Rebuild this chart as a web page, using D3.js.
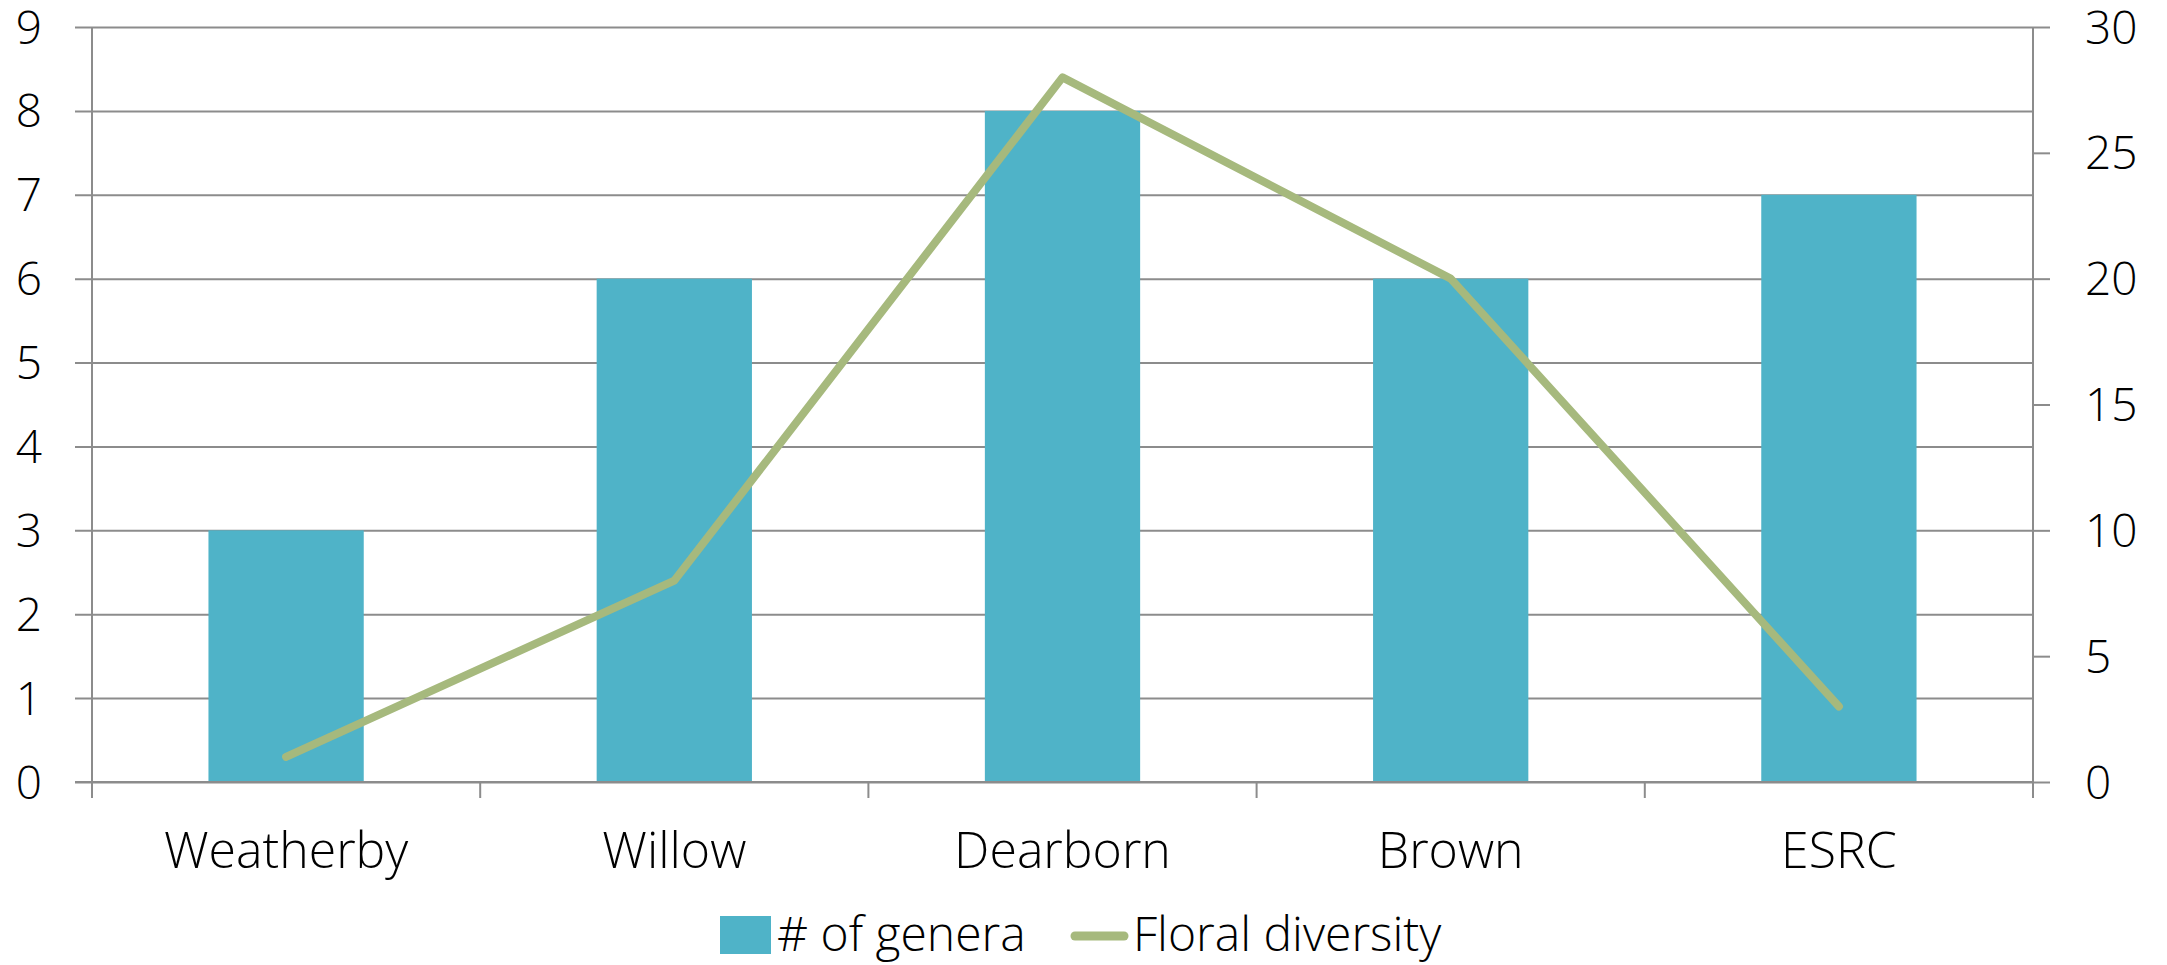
<!DOCTYPE html>
<html>
<head>
<meta charset="utf-8">
<script src="https://cdn.jsdelivr.net/npm/d3@7/dist/d3.min.js"></script>
<style>
  html, body { margin: 0; padding: 0; background: #ffffff; }
  svg { display: block; }
  text { font-family: "Open Sans", "Noto Sans", sans-serif; font-weight: 300; fill: #000; }
</style>
</head>
<body>
<svg id="chart" width="2167" height="965"></svg>
<script>
// Sites and their measurements
const categories = ["Weatherby", "Willow", "Dearborn", "Brown", "ESRC"];
const generaCounts = [3, 6, 8, 6, 7];        // # of genera (left axis)
const floralDiversity = [1, 8, 28, 20, 3];   // Floral diversity (right axis)
const leftTicks = [0, 1, 2, 3, 4, 5, 6, 7, 8, 9];
const rightTicks = [0, 5, 10, 15, 20, 25, 30];
const seriesNames = ["# of genera", "Floral diversity"];

const W = 2167, H = 965;
const plot = { left: 92, right: 2033, top: 27, bottom: 782 };
const barColor = "#4FB3C8";
const lineColor = "#A6B97D";
const gridColor = "#8C8C8C";

const svg = d3.select("#chart");
svg.append("rect").attr("width", W).attr("height", H).attr("fill", "#fff");

const x = d3.scaleBand().domain(categories).range([plot.left, plot.right]).paddingInner(0).paddingOuter(0);
const yL = d3.scaleLinear().domain([0, 9]).range([plot.bottom, plot.top]);
const yR = d3.scaleLinear().domain([0, 30]).range([plot.bottom, plot.top]);

// Left axis with gridlines spanning the plot
const leftAxis = d3.axisLeft(yL).tickValues(leftTicks)
  .tickSizeInner(-(plot.right - plot.left)).tickSizeOuter(0).tickPadding(0).tickFormat(d3.format("d"));
const gL = svg.append("g").attr("transform", `translate(${plot.left},0)`).call(leftAxis);
gL.select(".domain").remove();
gL.selectAll(".tick line").attr("stroke", gridColor).attr("stroke-width", 2)
  .attr("x1", -17);
gL.selectAll(".tick text").attr("x", -50).attr("dy", "0.35em")
  .style("font-size", "46px").style("font-family", '"Open Sans", sans-serif').style("font-weight", 300).attr("fill", "#000");

// Right axis
const rightAxis = d3.axisRight(yR).tickValues(rightTicks).tickSizeInner(17).tickSizeOuter(0).tickPadding(0);
const gR = svg.append("g").attr("transform", `translate(${plot.right},0)`).call(rightAxis);
gR.select(".domain").remove();
gR.selectAll(".tick line").attr("stroke", gridColor).attr("stroke-width", 2);
gR.selectAll(".tick text").attr("x", 52).attr("dy", "0.35em")
  .style("font-size", "46px").style("font-family", '"Open Sans", sans-serif').style("font-weight", 300).attr("fill", "#000");

// Bars
const barW = x.bandwidth() * 0.4;
svg.append("g").selectAll("rect").data(categories).join("rect")
  .attr("x", d => x(d) + (x.bandwidth() - barW) / 2)
  .attr("y", (d, i) => yL(generaCounts[i]))
  .attr("width", barW)
  .attr("height", (d, i) => yL(0) - yL(generaCounts[i]))
  .attr("fill", barColor);

// Bottom category axis
const bottomAxis = d3.axisBottom(x).tickSize(0).tickPadding(0);
const gB = svg.append("g").attr("transform", `translate(0,${plot.bottom})`).call(bottomAxis);
gB.select(".domain").remove();
gB.selectAll(".tick text").attr("y", 86).attr("dy", 0)
  .style("font-size", "50px").style("font-family", '"Open Sans", sans-serif').style("font-weight", 300).attr("fill", "#000");

// Baseline, vertical axes and category separators
svg.append("line").attr("x1", plot.left - 17).attr("x2", plot.right)
  .attr("y1", plot.bottom).attr("y2", plot.bottom).attr("stroke", gridColor).attr("stroke-width", 2);
[plot.left, plot.right].forEach(px => {
  svg.append("line").attr("x1", px).attr("x2", px).attr("y1", plot.top).attr("y2", plot.bottom + 16)
    .attr("stroke", gridColor).attr("stroke-width", 2);
});
categories.slice(1).forEach(c => {
  svg.append("line").attr("x1", x(c)).attr("x2", x(c)).attr("y1", plot.bottom).attr("y2", plot.bottom + 16)
    .attr("stroke", gridColor).attr("stroke-width", 2);
});

// Floral diversity line
const line = d3.line().x((d, i) => x(categories[i]) + x.bandwidth() / 2).y(d => yR(d));
svg.append("path").datum(floralDiversity).attr("d", line)
  .attr("fill", "none").attr("stroke", lineColor).attr("stroke-width", 8)
  .attr("stroke-linecap", "round").attr("stroke-linejoin", "round");

// Legend
const lg = svg.append("g");
lg.append("rect").attr("x", 720).attr("y", 916).attr("width", 51).attr("height", 38).attr("fill", barColor);
lg.append("text").attr("x", 777).attr("y", 951).style("font-size", "48px").text(seriesNames[0]);
lg.append("line").attr("x1", 1075).attr("x2", 1124).attr("y1", 936).attr("y2", 936)
  .attr("stroke", lineColor).attr("stroke-width", 9).attr("stroke-linecap", "round");
lg.append("text").attr("x", 1133).attr("y", 951).style("font-size", "48px").text(seriesNames[1]);
</script>
</body>
</html>
